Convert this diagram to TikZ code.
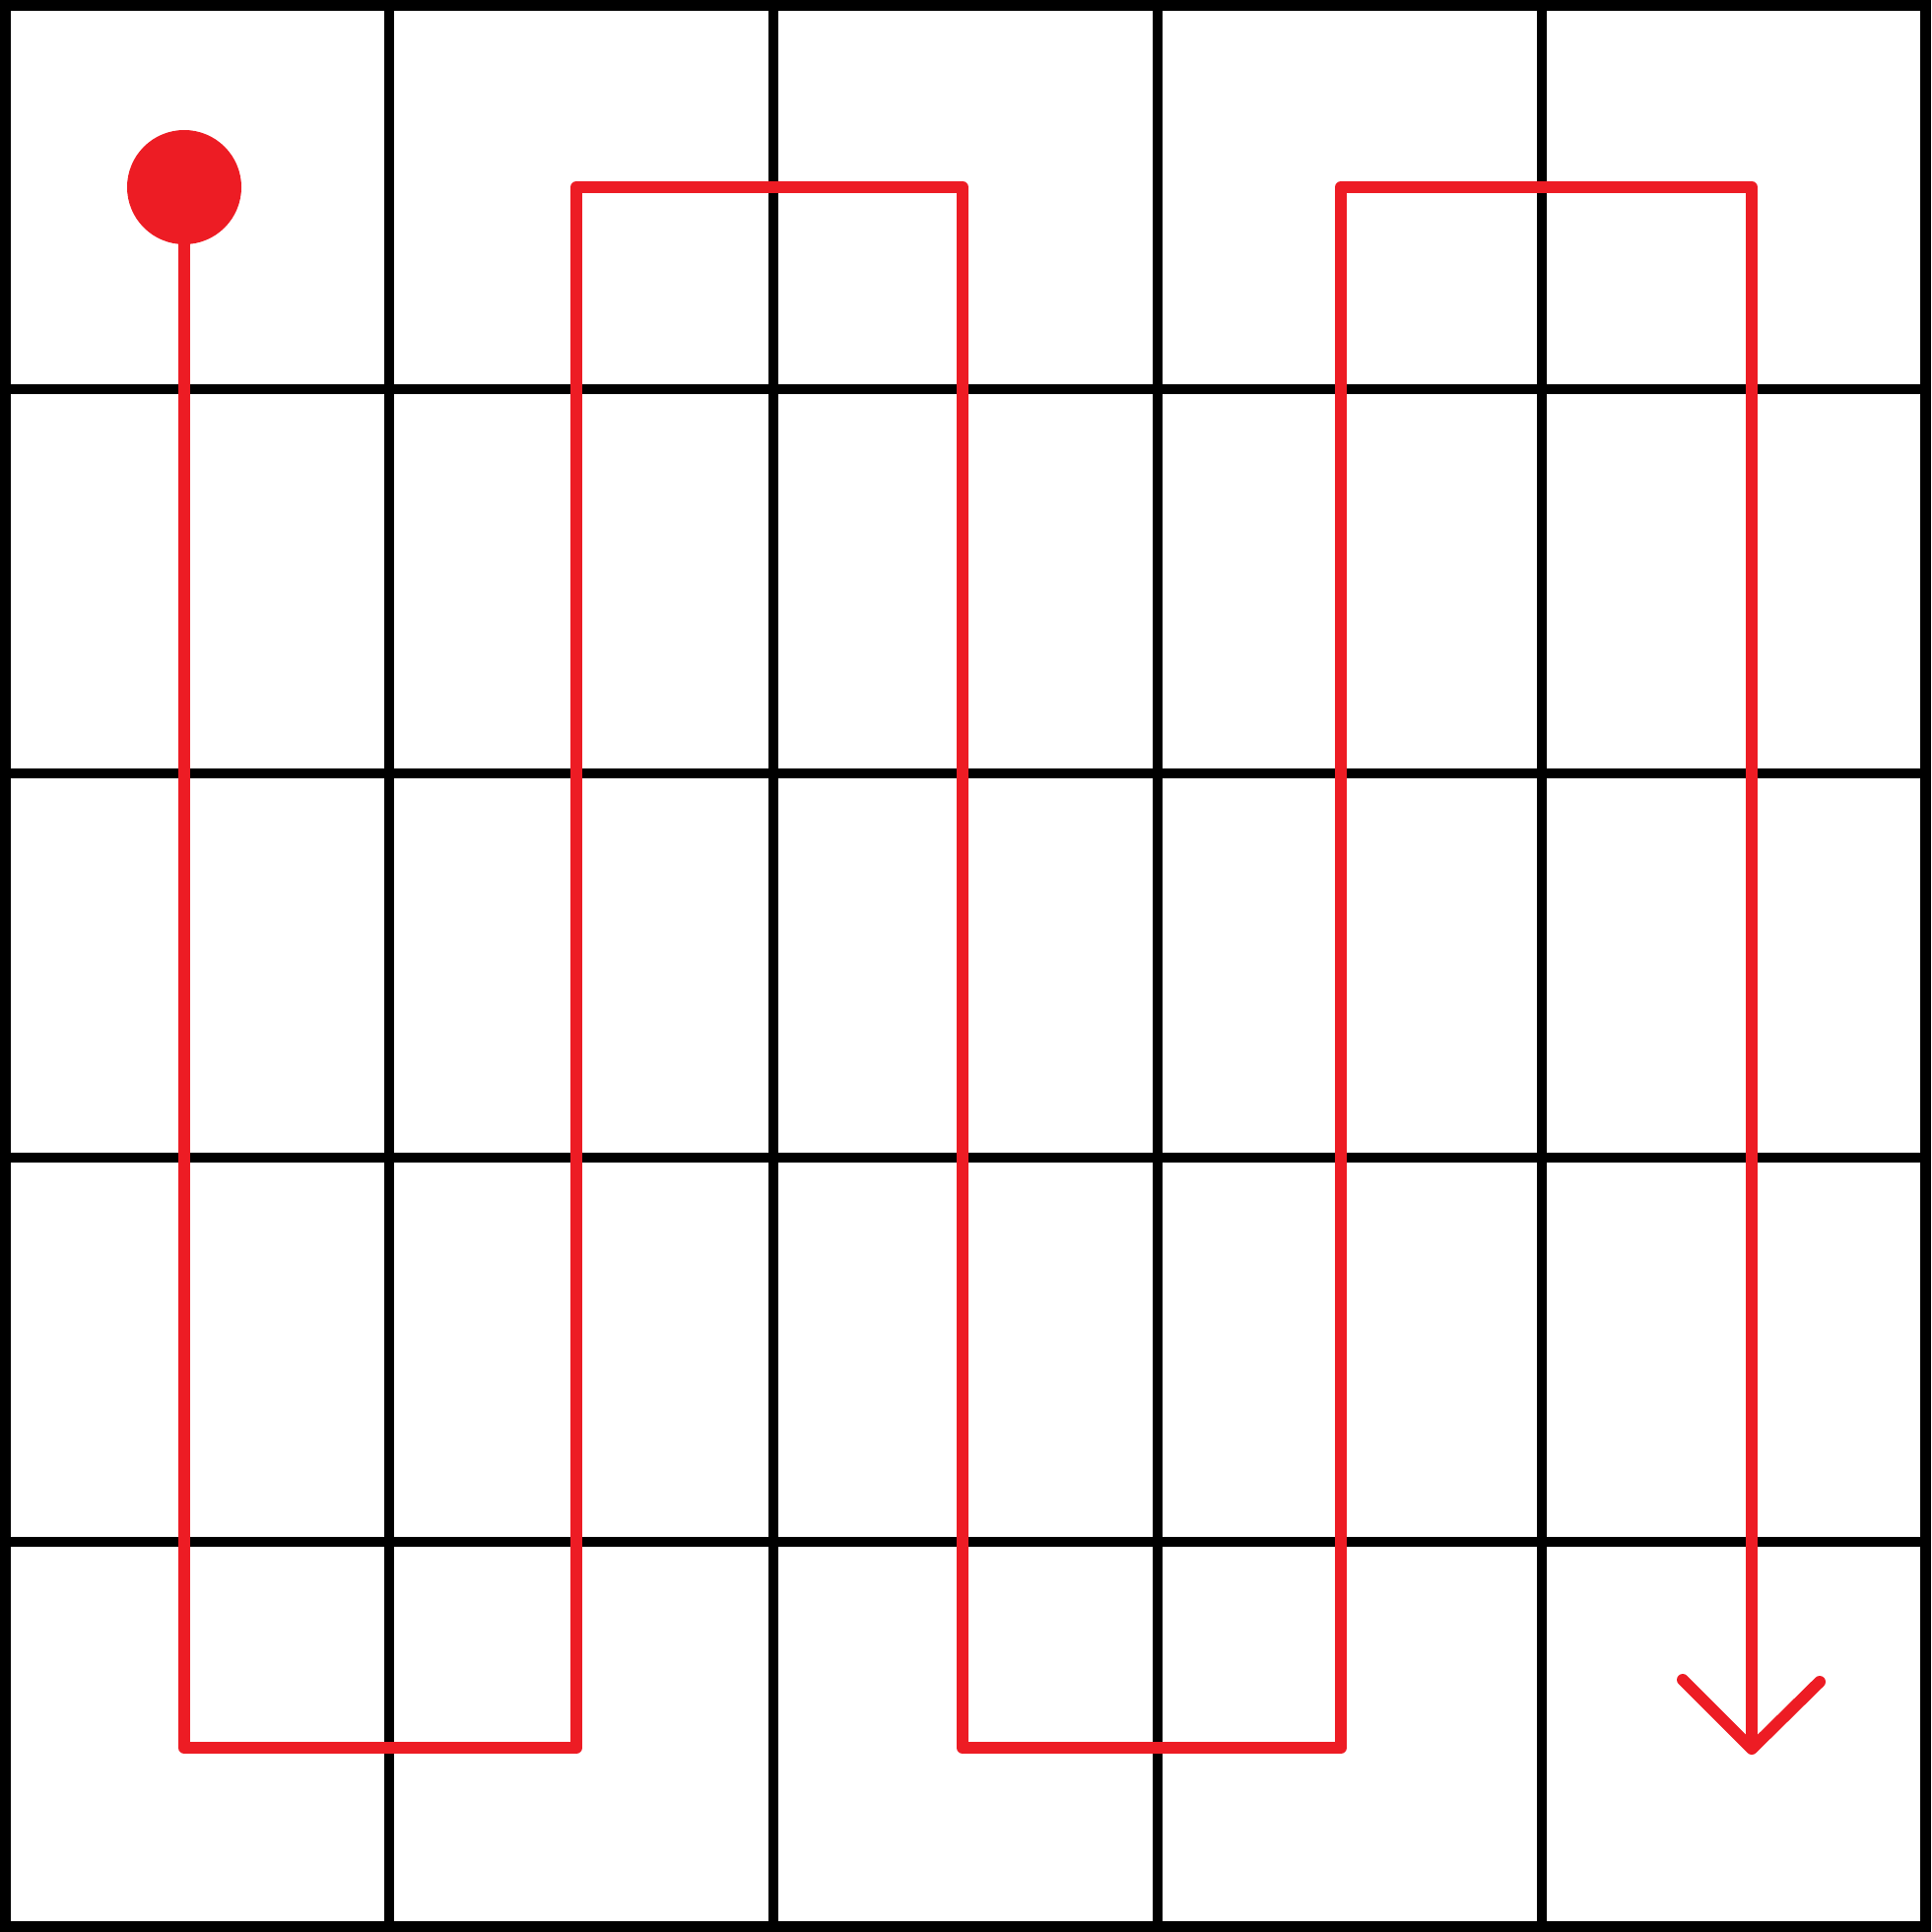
\documentclass[tikz,border=0pt]{standalone}
\definecolor{pathred}{HTML}{ED1C24}
\tikzset{
  gridline/.style={line width=10pt, black},
  snake/.style={line width=12pt, pathred, line join=round},
  tipline/.style={line width=12pt, pathred, line cap=round, line join=round},
  startdot/.style={circle, fill=pathred, inner sep=0pt, minimum size=116pt}
}
\begin{document}
\begin{tikzpicture}[x=1pt, y=-1pt]
\useasboundingbox (0,0) rectangle (1960,1961);
\fill[white] (0,0) rectangle (1960,1961);
% grid
\foreach \v in {395,785,1175,1565} {
  \draw[gridline] (\v,5) -- (\v,1956);
  \draw[gridline] (5,\v) -- (1955,\v);
}
\draw[gridline, line width=11pt] (5.5,5.5) rectangle (1954.5,1955.5);
% path
\node[startdot] (start) at (187,190) {};
\coordinate (b1) at (187,1774);
\coordinate (b2) at (585,1774);
\coordinate (t2) at (585,190);
\coordinate (t3) at (977,190);
\coordinate (b3) at (977,1774);
\coordinate (b4) at (1361,1774);
\coordinate (t4) at (1361,190);
\coordinate (t5) at (1778,190);
\coordinate (tip) at (1778,1775);
\coordinate (armL) at (1708,1705);
\coordinate (armR) at (1847,1707);
\draw[snake] (start.center) -- (b1) -- (b2) -- (t2) -- (t3) -- (b3) -- (b4) -- (t4) -- (t5) -- (tip);
\draw[tipline] (armL) -- (tip) -- (armR);
\end{tikzpicture}
\end{document}
